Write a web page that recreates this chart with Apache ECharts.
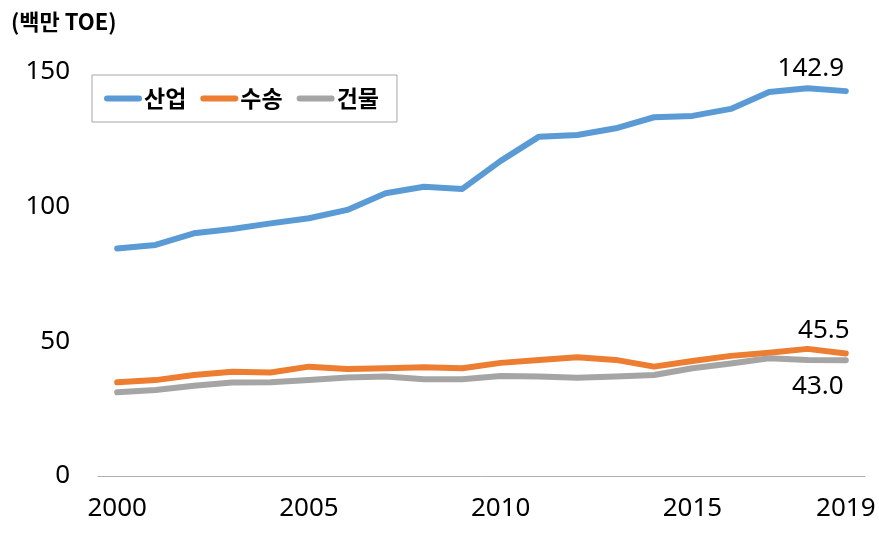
<!DOCTYPE html>
<html><head><meta charset="utf-8">
<script src="https://cdn.jsdelivr.net/npm/echarts@6/dist/echarts.min.js"></script>
<style>html,body{margin:0;padding:0;background:#fff}#c{width:879px;height:541px}</style>
</head><body><div id="c"></div>
<script>
var years = ['2000','2001','2002','2003','2004','2005','2006','2007','2008','2009','2010','2011','2012','2013','2014','2015','2016','2017','2018','2019'];
var industry = [84.5,85.8,90.1,91.7,93.8,95.7,98.8,105.0,107.4,106.6,117.0,126.0,126.6,129.1,133.2,133.7,136.3,142.6,144.0,142.9];
var transport = [34.8,35.6,37.5,38.7,38.4,40.6,39.7,40.0,40.4,40.0,42.0,43.1,44.1,43.1,40.6,42.7,44.6,45.8,47.2,45.5];
var building = [31.1,31.9,33.5,34.7,34.8,35.6,36.6,36.9,35.9,35.9,37.1,36.9,36.5,36.9,37.5,40.0,41.8,43.7,43.1,43.0];
var seriesNames = ['산업','수송','건물'];
var colors = ['#5B9BD5','#ED7D31','#A5A5A5'];
var yTicks = [0,50,100,150];

var KFONT = '"Noto Sans CJK KR","Noto Sans",sans-serif';
var NFONT = '"Noto Sans","Noto Sans CJK KR",sans-serif';
var capsule = 'path://M3,0 L35,0 A3,3 0 0 1 35,6 L3,6 A3,3 0 0 1 3,0 Z';

function withLabel(arr, pos, offset) {
  return arr.map(function (v, i) {
    if (i !== arr.length - 1) return v;
    return {value: v, label: {show: true, position: pos, offset: offset, distance: 6,
      formatter: function (p) { return p.value.toFixed(1); },
      fontFamily: NFONT, fontSize: 26, color: '#000'}};
  });
}

var chart = echarts.init(document.getElementById('c'), null, {renderer: 'canvas'});
chart.setOption({
  animation: false,
  color: colors,
  title: {text: '(백만 TOE)', left: 6, top: 6,
    textStyle: {fontFamily: KFONT, fontSize: 22, fontWeight: 'bold', color: '#000'}},
  legend: {
    left: 92, top: 75,
    padding: [12, 18, 12, 12],
    borderColor: '#a6a6a6', borderWidth: 1,
    itemWidth: 38, itemHeight: 7, itemGap: 14,
    icon: capsule,
    data: seriesNames,
    textStyle: {fontFamily: KFONT, fontSize: 23, fontWeight: 'bold', color: '#000', padding: [0,0,0,-3]}
  },
  grid: {left: 98, right: 14, top: 72, bottom: 65, containLabel: false},
  xAxis: {
    type: 'category', data: years, boundaryGap: true,
    axisLine: {lineStyle: {color: '#b0b0b0', width: 1}},
    axisTick: {show: false},
    axisLabel: {
      interval: 0, margin: 20,
      formatter: function (v) { return (v === '2000' || v === '2005' || v === '2010' || v === '2015' || v === '2019') ? v : ''; },
      fontFamily: NFONT, fontSize: 26, color: '#000'
    }
  },
  yAxis: {
    type: 'value', min: yTicks[0], max: yTicks[yTicks.length - 1], interval: 50,
    axisLine: {show: false}, axisTick: {show: false}, splitLine: {show: false},
    axisLabel: {margin: 28, fontFamily: NFONT, fontSize: 26, color: '#000'}
  },
  series: [
    {name: seriesNames[0], type: 'line', data: withLabel(industry, 'top', [-35, -4]), symbol: 'circle', symbolSize: 0, showSymbol: true,
      lineStyle: {width: 6, color: colors[0], cap: 'round', join: 'round'}},
    {name: seriesNames[1], type: 'line', data: withLabel(transport, 'top', [-22, -4]), symbol: 'circle', symbolSize: 0, showSymbol: true,
      lineStyle: {width: 6, color: colors[1], cap: 'round', join: 'round'}},
    {name: seriesNames[2], type: 'line', data: withLabel(building, 'bottom', [-28, 7]), symbol: 'circle', symbolSize: 0, showSymbol: true,
      lineStyle: {width: 6, color: colors[2], cap: 'round', join: 'round'}}
  ]
});
</script></body></html>
